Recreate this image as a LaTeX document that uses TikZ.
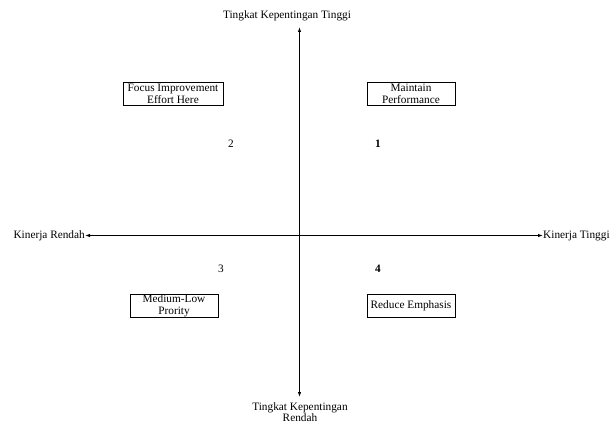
\documentclass[tikz,border=0pt]{standalone}
\usepackage{fontspec}
\setmainfont{Liberation Serif}
\usepackage{tikz}
\usetikzlibrary{arrows.meta, positioning}

\begin{document}
\begin{tikzpicture}[x=1pt, y=-1pt, font=\fontsize{11.3}{11.5}\selectfont,
    kotak/.style={draw, line width=0.8pt, align=center, inner sep=1pt, minimum height=23pt},
    label/.style={inner sep=0pt, align=center},
    sumbu/.style={line width=0.9pt, {Latex[length=5pt,width=3.5pt]}-{Latex[length=5pt,width=3.5pt]}}]
    \useasboundingbox (0,0) rectangle (610,425);

    % Axis labels
    \node[label] (atas) at (287,16) {Tingkat Kepentingan Tinggi};
    \node[label] (bawah) at (300,412) {Tingkat Kepentingan\\Rendah};
    \node[label, anchor=east] (kiri) at (85,235.5) {Kinerja Rendah};
    \node[label, anchor=west] (kanan) at (543,235.5) {Kinerja Tinggi};

    % Axes
    \coordinate (o) at (299.5,235.5);
    \coordinate (ujungatas) at (299.5,27);
    \coordinate (ujungbawah) at (299.5,397);
    \draw[sumbu] (ujungbawah) -- (ujungatas);
    \draw[sumbu] (kiri.east) -- (kanan.west);

    % Quadrant boxes
    \node[kotak, minimum width=100pt] (fokus) at (173,94) {Focus Improvement\\Effort Here};
    \node[kotak, minimum width=88pt] (pertahankan) at (411,94) {Maintain\\Performance};
    \node[kotak, minimum width=88pt] (rendah) at (174,306) {Medium-Low\\Prority};
    \node[kotak, minimum width=88pt] (kurangi) at (411,306) {Reduce Emphasis};

    % Quadrant numbers
    \node (k1) at (378,144) {\bfseries 1};
    \node (k2) at (231,144) {2};
    \node (k3) at (221,269) {3};
    \node (k4) at (378,269) {\bfseries 4};
\end{tikzpicture}
\end{document}
